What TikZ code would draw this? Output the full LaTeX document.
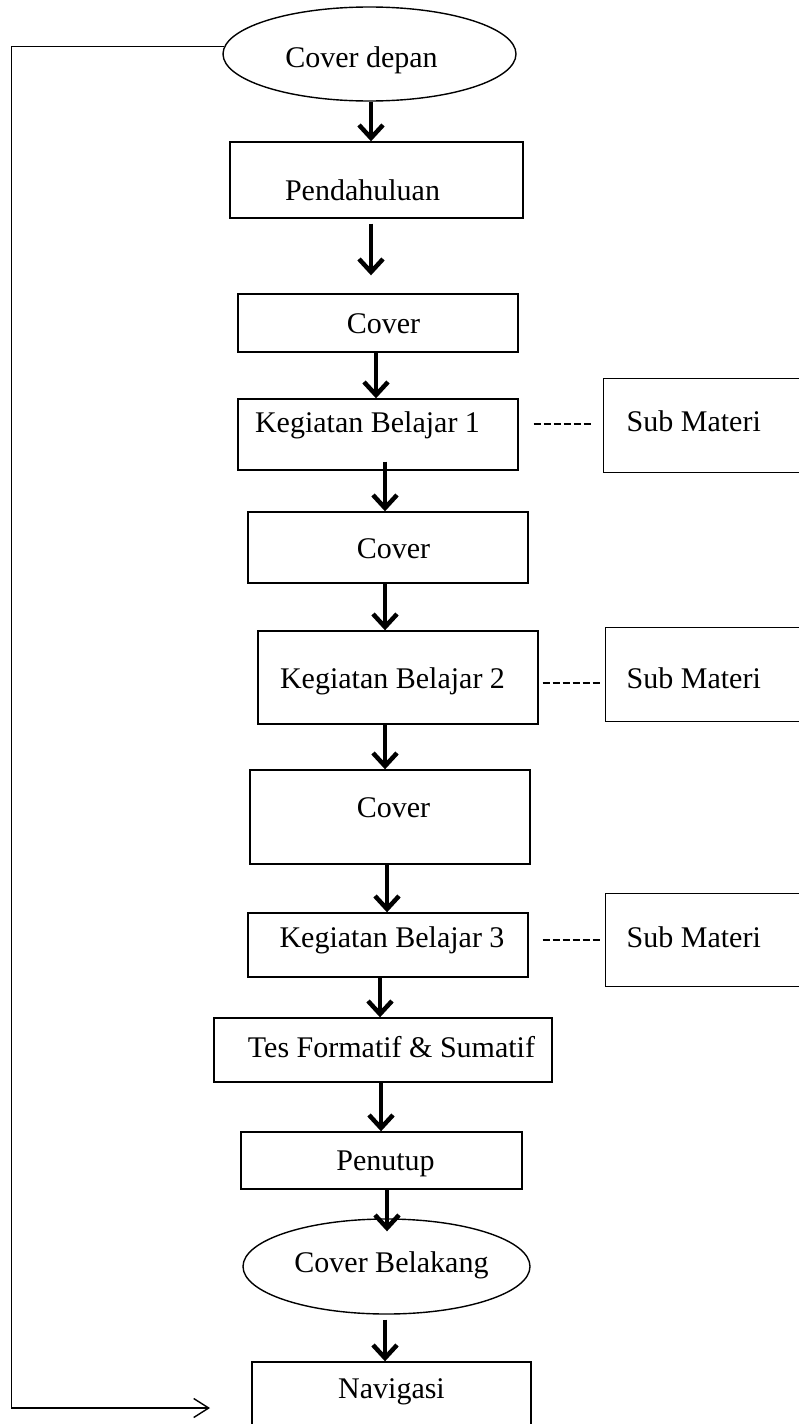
\documentclass[tikz,border=0pt]{standalone}
\usepackage{fontspec}
\setmainfont{Liberation Serif}
\usetikzlibrary{arrows.meta,shapes.geometric}
\begin{document}
\begin{tikzpicture}[x=1pt,y=-1pt,
  every node/.style={font=\fontsize{30}{36}\selectfont, inner sep=0pt},
  box/.style={draw, line width=1.4pt, rectangle},
  oval/.style={draw, line width=1.4pt, ellipse, inner xsep=-8pt, inner ysep=0pt},
  side/.style={draw, line width=1.4pt, rectangle, anchor=north west, inner ysep=0pt},
  flow/.style={line width=4.5pt, -{Straight Barb[length=13pt,width=24pt]}},
  loopline/.style={line width=1.4pt, -{Straight Barb[length=15pt,width=19pt]}},
  dots/.style={line width=1.5pt, dash pattern=on 7pt off 3pt},
]
\useasboundingbox (0,0) rectangle (799,1424);
\clip (0,0) rectangle (799,1424);
\fill[white] (0,0) rectangle (799,1424);

\node[oval, minimum width=293pt, minimum height=94pt, text height=30pt, text depth=4pt] (cd) at (369.5,54) {Cover depan\hspace{16pt}\mbox{}};
\node[box, minimum width=293pt, text height=58pt, text depth=18pt] (pend) at (376.5,180) {Pendahuluan\hspace{28pt}\mbox{}};
\node[box, minimum width=280pt, text height=39pt, text depth=19pt] (cov1) at (378,323) {\hspace{11pt}Cover};
\node[box, minimum width=280pt, text height=33pt, text depth=38pt] (kb1) at (378,434.5) {Kegiatan Belajar 1\hspace{21pt}\mbox{}};
\node[side, inner xsep=23pt, text height=53pt, text depth=41pt] (sm1) at (603,378) {Sub Materi\hspace{100pt}\mbox{}};
\node[box, minimum width=280pt, text height=46pt, text depth=25pt] (cov2) at (388,547.5) {\hspace{11pt}Cover};
\node[box, minimum width=280pt, text height=57pt, text depth=36pt] (kb2) at (398,677.5) {Kegiatan Belajar 2\hspace{11pt}\mbox{}};
\node[side, inner xsep=21pt, text height=61pt, text depth=33pt] (sm2) at (605,627) {Sub Materi\hspace{100pt}\mbox{}};
\node[box, minimum width=280pt, text height=47pt, text depth=47pt] (cov3) at (390,817) {\hspace{7pt}Cover};
\node[box, minimum width=280pt, text height=34pt, text depth=30pt] (kb3) at (388,945) {\hspace{8pt}Kegiatan Belajar 3};
\node[side, inner xsep=21pt, text height=54pt, text depth=39pt] (sm3) at (605,893) {Sub Materi\hspace{100pt}\mbox{}};
\node[box, minimum width=338pt, text height=39pt, text depth=25pt] (tfs) at (383,1050) {\hspace{17pt}Tes Formatif \& Sumatif};
\node[box, minimum width=281pt, text height=38pt, text depth=19pt] (pen) at (381.5,1160.5) {\hspace{8pt}Penutup};
\node[oval, minimum width=287pt, minimum height=95pt, text height=22pt, text depth=11pt] (cb) at (386.5,1266.5) {\hspace{10pt}Cover Belakang};
\node[box, minimum width=279pt, text height=36pt, text depth=42pt] (nav) at (391.5,1401) {Navigasi};

\draw[flow] (cd.south -| 371,0) -- (pend.north -| 371,0);
\draw[flow, shorten <=5pt, shorten >=18pt] (pend.south -| 371,0) -- (cov1.north -| 371,0);
\draw[flow] (cov1.south -| 376,0) -- (kb1.north -| 376,0);
\draw[flow, shorten <=-9pt] (kb1.south -| 385,0) -- (cov2.north -| 385,0);
\draw[flow] (cov2.south -| 385,0) -- (kb2.north -| 385,0);
\draw[flow] (kb2.south -| 385,0) -- (cov3.north -| 385,0);
\draw[flow] (cov3.south -| 387,0) -- (kb3.north -| 387,0);
\draw[flow] (kb3.south -| 380,0) -- (tfs.north -| 380,0);
\draw[flow] (tfs.south -| 381,0) -- (pen.north -| 381,0);
\draw[flow, shorten >=-13pt] (pen.south -| 387,0) -- (cb.north -| 387,0);
\draw[flow, shorten <=5pt] (cb.south -| 385,0) -- (nav.north -| 385,0);

\coordinate (corner) at (11.5,1408);
\coordinate (tip) at (210,1408);
\draw[loopline] (cd.177) -| (corner) -- (tip);

\draw[dots, shorten <=15pt, shorten >=10pt] (kb1.east |- 0,424) -- (sm1.west |- 0,424);
\draw[dots, shorten <=4pt, shorten >=4pt] (kb2.east |- 0,683) -- (sm2.west |- 0,683);
\draw[dots, shorten <=14pt, shorten >=4pt] (kb3.east |- 0,940) -- (sm3.west |- 0,940);
\end{tikzpicture}
\end{document}
